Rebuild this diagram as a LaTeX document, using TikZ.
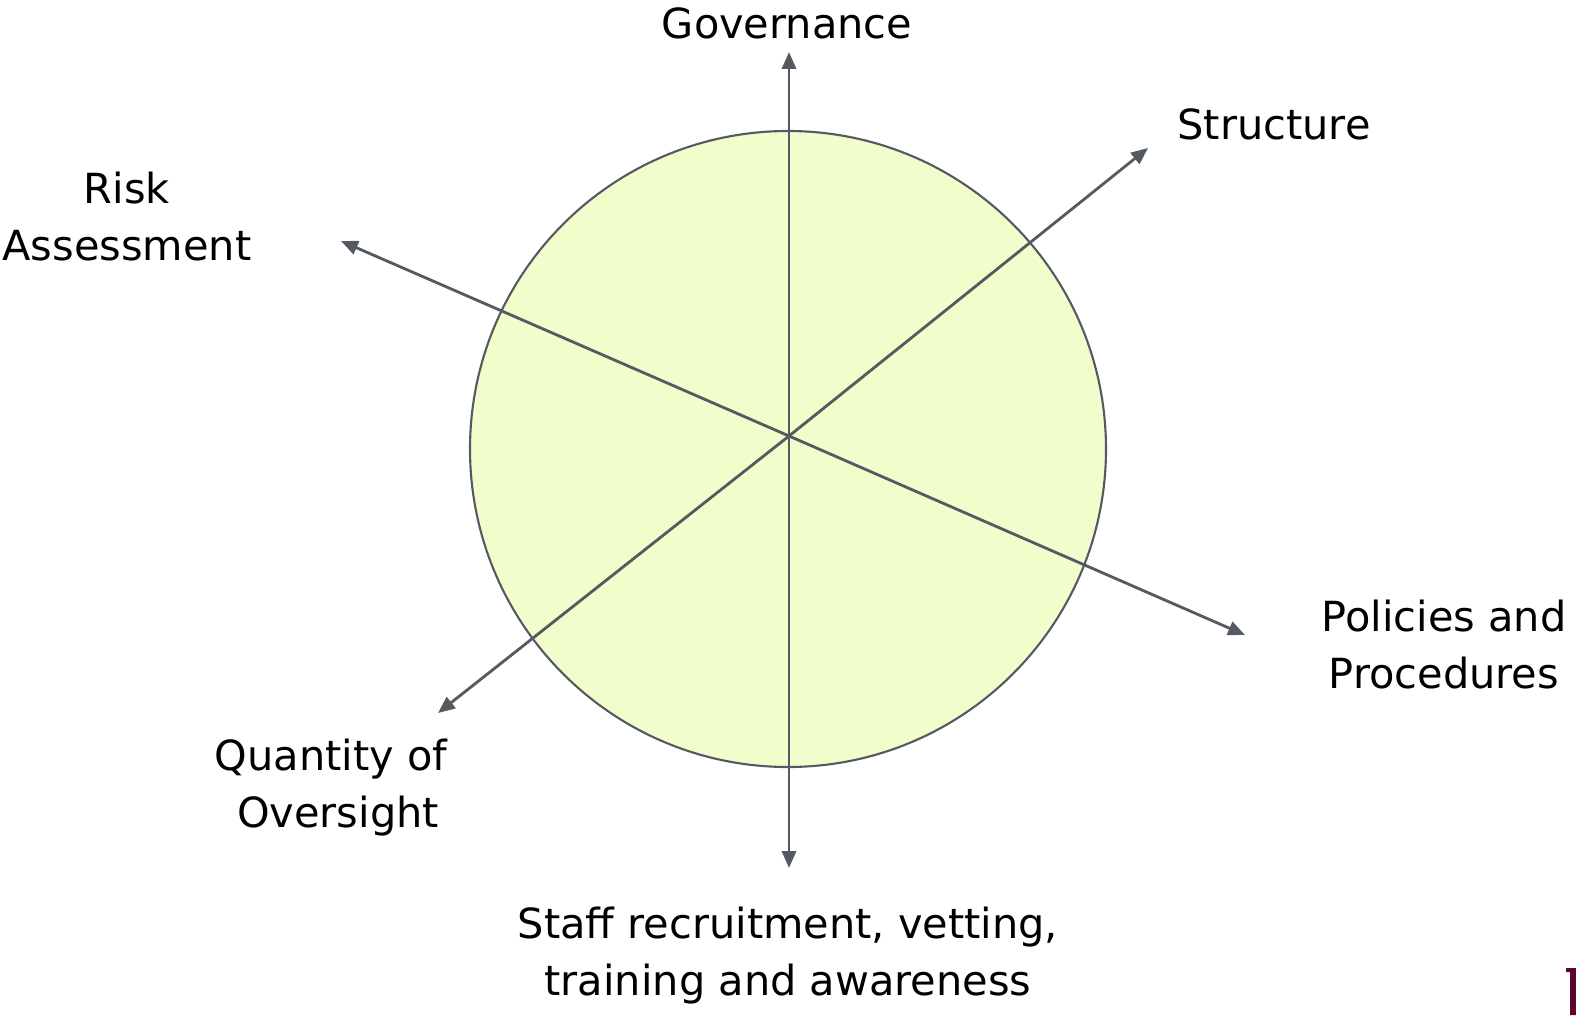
\documentclass[tikz,border=0pt]{standalone}
\usepackage{fontspec}
\setmainfont{DejaVu Sans}
\usepackage{xcolor}
\usetikzlibrary{arrows.meta}

\definecolor{axisgray}{HTML}{535A61}
\definecolor{discfill}{HTML}{F2FDCC}
\definecolor{markred}{HTML}{5C0530}

\tikzset{
  axis/.style={draw=axisgray, line width=0.8pt, -{Triangle[length=4.8pt, width=4pt]}},
  label/.style={font=\fontsize{11.8}{16.2}\selectfont, align=center, inner sep=0pt}
}

\begin{document}
\begin{tikzpicture}[x=0.01cm, y=-0.01cm]
  \useasboundingbox (0,0) rectangle (1576,1015);
  \node[circle, draw=axisgray, line width=0.6pt, fill=discfill, minimum size=636*0.01cm, inner sep=0pt] (disc) at (788,449) {};
  \coordinate (O) at (789,436);
  \coordinate (gov) at (789,52);
  \coordinate (str) at (1148,148);
  \coordinate (pol) at (1245,635);
  \coordinate (sta) at (789,868);
  \coordinate (qua) at (438,713);
  \coordinate (ris) at (341,241);
  \draw[axis] (O) -- (gov);
  \draw[axis] (O) -- (str);
  \draw[axis] (O) -- (pol);
  \draw[axis] (O) -- (sta);
  \draw[axis] (O) -- (qua);
  \draw[axis] (O) -- (ris);
  \node[label] (Gov) at (787,23) {Governance};
  \node[label] (Str) at (1274,124) {Structure};
  \node[label] (Ris) at (127,217) {Risk\\Assessment};
  \node[label] (Pol) at (1444,645) {Policies and\\Procedures};
  \node[label] (Qua) at (331,788) {Quantity of\\\hspace*{4pt}Oversight};
  \node[label] (Sta) at (788,956) {Staff recruitment, vetting,\\training and awareness};
  % cut-off mark in the corner
  \fill[markred] (1566,968) -- (1576,968) -- (1576,1015) -- (1570,1015) -- (1570,972) -- (1566,972) -- cycle;
\end{tikzpicture}
\end{document}
